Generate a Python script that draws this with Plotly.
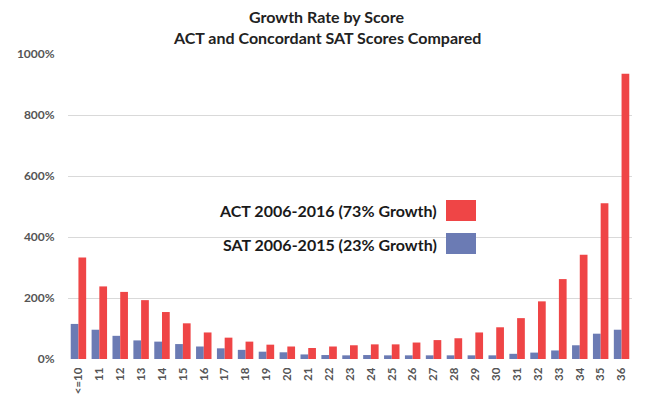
import plotly.graph_objects as go

categories = ["<=10"] + [str(i) for i in range(11, 37)]
act_growth = [333, 238, 220, 193, 154, 117, 87, 70, 57, 47, 41, 36, 41, 45, 48, 48,
              54, 62, 68, 87, 104, 134, 189, 262, 342, 511, 935]
sat_growth = [115, 96, 76, 61, 57, 49, 41, 35, 30, 24, 22, 15, 13, 12, 13, 12,
              12, 12, 12, 12, 12, 17, 21, 28, 45, 83, 96]
y_ticks = [0, 200, 400, 600, 800, 1000]
y_tick_labels = ["0%", "200%", "400%", "600%", "800%", "1000%"]
act_label = "ACT 2006-2016 (73% Growth)"
sat_label = "SAT 2006-2015 (23% Growth)"

RED = "#ef4546"
BLUE = "#6b7bb4"
FONT = "Lato"

fig = go.Figure()
fig.add_trace(go.Bar(x=categories, y=sat_growth, name=sat_label, marker_color=BLUE,
                     marker_line_width=0))
fig.add_trace(go.Bar(x=categories, y=act_growth, name=act_label, marker_color=RED,
                     marker_line_width=0))

fig.update_layout(
    width=657, height=397,
    margin=dict(l=68, r=25, t=54, b=38, autoexpand=False),
    paper_bgcolor="white", plot_bgcolor="white",
    barmode="group", bargap=0.26, bargroupgap=0,
    showlegend=False,
    font=dict(family=FONT, color="#555555"),
)
fig.update_yaxes(
    range=[0, 1000], tickvals=y_ticks, ticktext=y_tick_labels,
    showgrid=True, gridcolor="#d9d9d9", gridwidth=1, zeroline=False,
    ticks="outside", ticklen=10, tickcolor="rgba(0,0,0,0)",
    tickfont=dict(family=FONT, size=12, color="#555555", weight="bold"),
    automargin=False,
)
fig.update_xaxes(
    tickangle=-90, ticks="outside", ticklen=3, tickcolor="rgba(0,0,0,0)",
    tickfont=dict(family=FONT, size=11.5, color="#555555", weight="bold"),
    showgrid=False, showline=False, automargin=False,
)

def px_x(px):
    return (px - 68) / 564

def px_y(py):
    return (359 - py) / 305

# Title
fig.add_annotation(text="<b>Growth Rate by Score</b>", xref="paper", yref="paper",
                   x=px_x(327), y=px_y(17), xanchor="center", yanchor="middle",
                   showarrow=False, font=dict(family=FONT, size=16, color="#222222"))
fig.add_annotation(text="<b>ACT and Concordant SAT Scores Compared</b>", xref="paper", yref="paper",
                   x=px_x(327), y=px_y(37), xanchor="center", yanchor="middle",
                   showarrow=False, font=dict(family=FONT, size=16, color="#222222"))

# Custom legend (text left of swatch)
for label, color, yc, y0, y1 in [(act_label, RED, 210, 200, 221), (sat_label, BLUE, 244, 233, 254)]:
    fig.add_annotation(text="<b>" + label + "</b>", xref="paper", yref="paper",
                       x=px_x(439), y=px_y(yc), xanchor="right", yanchor="middle",
                       showarrow=False, font=dict(family=FONT, size=16, color="#1a1a1a"))
    fig.add_shape(type="rect", xref="paper", yref="paper",
                  x0=px_x(446), x1=px_x(476), y0=px_y(y1), y1=px_y(y0),
                  fillcolor=color, line_width=0)

fig.write_html("out.html", config={"displayModeBar": False},
               post_script="document.body.style.margin='0px';")
